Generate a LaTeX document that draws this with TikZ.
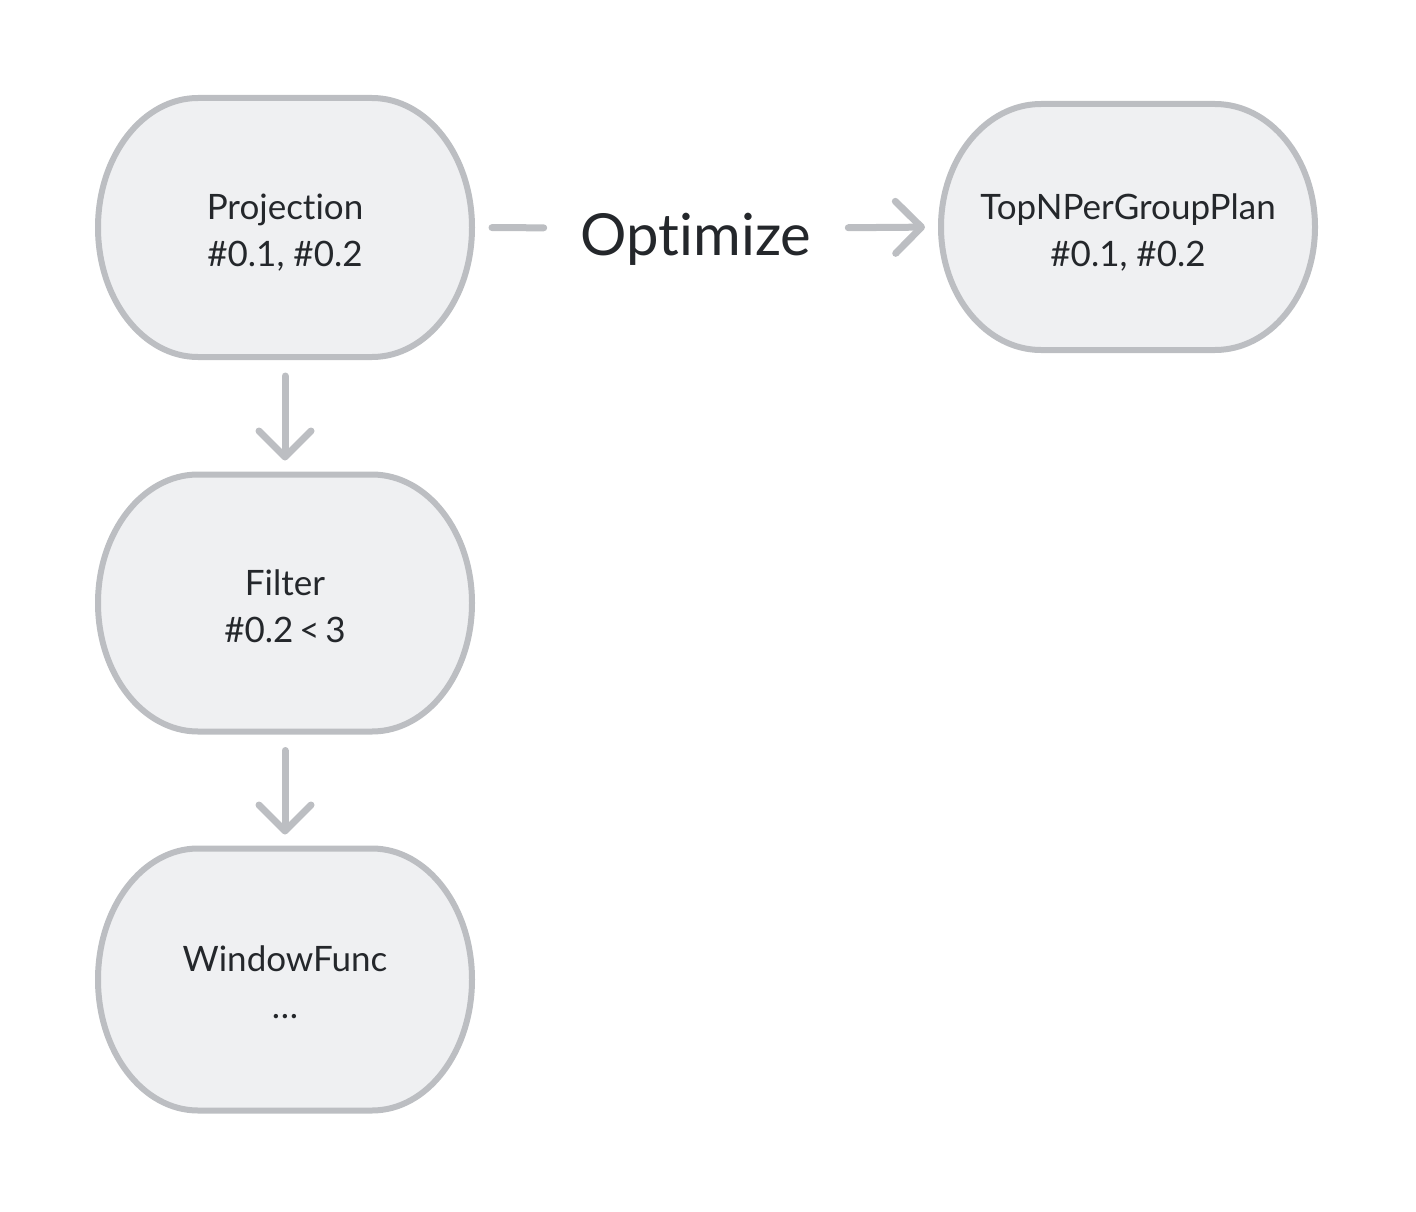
\documentclass[tikz,border=0pt]{standalone}
\usepackage{fontspec}
\setmainfont{Lato}[Ligatures={NoCommon}]
\usetikzlibrary{arrows.meta,backgrounds}
\definecolor{edgec}{HTML}{BCBEC2}
\definecolor{fillc}{HTML}{EFF0F2}
\definecolor{txtc}{HTML}{24272B}
\newcommand\blobshape[2]{%
  \path[blobline] ([xshift=100pt]#1.north west) -- ([xshift=-100pt]#1.north east)
    arc[start angle=90,end angle=-90,x radius=100pt,y radius=#2]
    -- ([xshift=100pt]#1.south west)
    arc[start angle=270,end angle=90,x radius=100pt,y radius=#2] -- cycle;}
\newcommand\twolines[2]{\rule{0pt}{39pt}#1\\#2\rule[-8pt]{0pt}{8pt}}
\begin{document}
\begin{tikzpicture}[x=1pt,y=-1pt,
  blobline/.style={draw=edgec,fill=fillc,line width=6pt},
  blob/.style={minimum width=374pt,inner sep=0pt,outer sep=0pt,align=center,
    text=txtc,font=\fontsize{35}{47}\selectfont},
  conn/.style={draw=edgec,line width=7pt,line cap=round,line join=round},
  tip/.style={-{Straight Barb[length=26pt,width=52pt,line cap=round,line join=round]}}]
\useasboundingbox (0,0) rectangle (1416,1212);
\node[blob,minimum height=259pt] (proj) at (285,227.5) {\twolines{Projection}{\#0.1, \#0.2}};
\node[blob,minimum height=246pt] (topn) at (1128,227) {\twolines{TopNPerGroupPlan}{\#0.1, \#0.2}};
\node[blob,minimum height=257pt] (filt) at (285,603) {\twolines{Filter}{\#0.2\,<\,3}};
\node[blob,minimum height=262pt] (wind) at (285,979.5) {\twolines{WindowFunc}{\dots}};
\node[inner sep=0pt,outer sep=0pt,text=txtc,font=\fontsize{58}{60}\selectfont,
  text height=54pt,text depth=0pt] (opt) at (696,228) {Optimize};
\begin{pgfonlayer}{background}
\blobshape{proj}{129.5pt}
\blobshape{topn}{123pt}
\blobshape{filt}{128.5pt}
\blobshape{wind}{131pt}
\end{pgfonlayer}
\draw[conn,tip,shorten <=19pt,shorten >=14pt] (proj.south) -- (filt.north);
\draw[conn,tip,shorten <=19pt,shorten >=14pt] (filt.south) -- (wind.north);
\draw[conn,shorten <=20pt,shorten >=37pt] (proj.east) -- (opt.west);
\draw[conn,tip,shorten <=37pt,shorten >=16pt] (opt.east) -- (topn.west);
\end{tikzpicture}
\end{document}
